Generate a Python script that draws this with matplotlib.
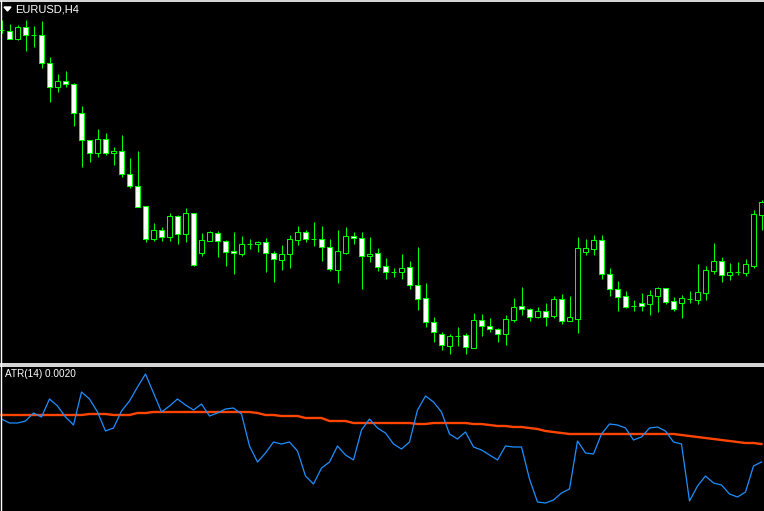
import numpy as np
import matplotlib
matplotlib.use("Agg")
from matplotlib import pyplot as plt
from matplotlib.lines import Line2D
from matplotlib.patches import Polygon

# EURUSD H4 candles (oldest -> newest)
opens = [1.1370, 1.1369, 1.1361, 1.1373, 1.1365, 1.1365, 1.1337, 1.1313, 1.1319, 1.1316,
         1.1287, 1.1260, 1.1247, 1.1261, 1.1247, 1.1249, 1.1226, 1.1214, 1.1194, 1.1161,
         1.1170, 1.1163, 1.1184, 1.1166, 1.1187, 1.1147, 1.1159, 1.1167, 1.1159, 1.1149,
         1.1146, 1.1156, 1.1156, 1.1158, 1.1147, 1.1140, 1.1146, 1.1160, 1.1168, 1.1161,
         1.1161, 1.1153, 1.1130, 1.1147, 1.1164, 1.1162, 1.1144, 1.1147, 1.1134, 1.1128,
         1.1128, 1.1133, 1.1115, 1.1102, 1.1078, 1.1066, 1.1054, 1.1064, 1.1065, 1.1052,
         1.1080, 1.1074, 1.1071, 1.1066, 1.1080, 1.1094, 1.1091, 1.1083, 1.1089, 1.1084,
         1.1101, 1.1079, 1.1081, 1.1148, 1.1151, 1.1160, 1.1126, 1.1111, 1.1104, 1.1094,
         1.1097, 1.1096, 1.1104, 1.1112, 1.1099, 1.1097, 1.1101, 1.1100, 1.1107, 1.1129,
         1.1139, 1.1125, 1.1128, 1.1127, 1.1134, 1.1185]
highs = [1.1380, 1.1376, 1.1375, 1.1380, 1.1374, 1.1379, 1.1343, 1.1326, 1.1329, 1.1317,
         1.1294, 1.1260, 1.1271, 1.1267, 1.1253, 1.1265, 1.1242, 1.1249, 1.1194, 1.1177,
         1.1173, 1.1187, 1.1185, 1.1192, 1.1187, 1.1167, 1.1169, 1.1169, 1.1160, 1.1168,
         1.1164, 1.1161, 1.1159, 1.1162, 1.1149, 1.1155, 1.1165, 1.1174, 1.1170, 1.1178,
         1.1174, 1.1161, 1.1170, 1.1173, 1.1168, 1.1168, 1.1163, 1.1152, 1.1142, 1.1132,
         1.1146, 1.1139, 1.1153, 1.1117, 1.1083, 1.1068, 1.1066, 1.1073, 1.1067, 1.1087,
         1.1086, 1.1082, 1.1072, 1.1085, 1.1102, 1.1113, 1.1092, 1.1093, 1.1097, 1.1104,
         1.1106, 1.1104, 1.1163, 1.1161, 1.1165, 1.1165, 1.1132, 1.1119, 1.1109, 1.1100,
         1.1107, 1.1110, 1.1113, 1.1112, 1.1103, 1.1105, 1.1109, 1.1136, 1.1134, 1.1157,
         1.1143, 1.1137, 1.1138, 1.1141, 1.1190, 1.1200]
lows = [1.1367, 1.1361, 1.1360, 1.1349, 1.1353, 1.1332, 1.1298, 1.1308, 1.1313, 1.1274,
        1.1233, 1.1238, 1.1243, 1.1245, 1.1235, 1.1223, 1.1212, 1.1193, 1.1158, 1.1159,
        1.1159, 1.1159, 1.1156, 1.1158, 1.1134, 1.1144, 1.1159, 1.1143, 1.1134, 1.1126,
        1.1144, 1.1151, 1.1148, 1.1128, 1.1118, 1.1130, 1.1132, 1.1155, 1.1158, 1.1154,
        1.1139, 1.1129, 1.1117, 1.1146, 1.1156, 1.1111, 1.1138, 1.1129, 1.1121, 1.1123,
        1.1121, 1.1111, 1.1090, 1.1073, 1.1058, 1.1050, 1.1046, 1.1054, 1.1046, 1.1052,
        1.1064, 1.1068, 1.1058, 1.1055, 1.1078, 1.1085, 1.1079, 1.1082, 1.1074, 1.1082,
        1.1076, 1.1079, 1.1067, 1.1145, 1.1145, 1.1121, 1.1104, 1.1089, 1.1092, 1.1089,
        1.1089, 1.1085, 1.1088, 1.1096, 1.1089, 1.1082, 1.1097, 1.1096, 1.1100, 1.1126,
        1.1118, 1.1120, 1.1125, 1.1124, 1.1132, 1.1170]
closes = [1.1370, 1.1361, 1.1373, 1.1365, 1.1365, 1.1337, 1.1313, 1.1319, 1.1316, 1.1287,
          1.1260, 1.1247, 1.1261, 1.1247, 1.1249, 1.1226, 1.1214, 1.1193, 1.1161, 1.1170,
          1.1163, 1.1184, 1.1166, 1.1187, 1.1135, 1.1160, 1.1168, 1.1159, 1.1148, 1.1147,
          1.1156, 1.1156, 1.1158, 1.1147, 1.1141, 1.1146, 1.1161, 1.1168, 1.1161, 1.1161,
          1.1153, 1.1131, 1.1149, 1.1164, 1.1162, 1.1144, 1.1146, 1.1133, 1.1128, 1.1128,
          1.1132, 1.1115, 1.1101, 1.1078, 1.1068, 1.1055, 1.1064, 1.1064, 1.1053, 1.1080,
          1.1074, 1.1071, 1.1066, 1.1081, 1.1093, 1.1091, 1.1083, 1.1089, 1.1083, 1.1101,
          1.1079, 1.1083, 1.1152, 1.1152, 1.1160, 1.1126, 1.1111, 1.1103, 1.1093, 1.1094,
          1.1094, 1.1105, 1.1112, 1.1098, 1.1091, 1.1102, 1.1101, 1.1108, 1.1130, 1.1139,
          1.1125, 1.1128, 1.1128, 1.1136, 1.1186, 1.1198]

# ATR(14) and its moving average
atr = [0.00243, 0.00239, 0.00239, 0.00241, 0.00249, 0.00245, 0.00263, 0.00256, 0.00245, 0.00237,
       0.00270, 0.00263, 0.00250, 0.00231, 0.00234, 0.00251, 0.00261, 0.00275, 0.00288, 0.00269,
       0.00250, 0.00256, 0.00263, 0.00257, 0.00252, 0.00258, 0.00246, 0.00249, 0.00253, 0.00254,
       0.00248, 0.00216, 0.00200, 0.00209, 0.00220, 0.00218, 0.00220, 0.00211, 0.00186, 0.00178,
       0.00194, 0.00200, 0.00216, 0.00207, 0.00202, 0.00232, 0.00243, 0.00234, 0.00229, 0.00218,
       0.00213, 0.00220, 0.00252, 0.00266, 0.00260, 0.00250, 0.00228, 0.00223, 0.00230, 0.00215,
       0.00212, 0.00207, 0.00202, 0.00216, 0.00215, 0.00215, 0.00183, 0.00160, 0.00159, 0.00162,
       0.00169, 0.00173, 0.00221, 0.00209, 0.00208, 0.00228, 0.00238, 0.00237, 0.00234, 0.00222,
       0.00225, 0.00234, 0.00235, 0.00231, 0.00220, 0.00218, 0.00161, 0.00176, 0.00186, 0.00179,
       0.00177, 0.00168, 0.00165, 0.00170, 0.00196, 0.00200]
atr_ma = [0.00247, 0.00247, 0.00247, 0.00247, 0.00247, 0.00247, 0.00247, 0.00247, 0.00247, 0.00247,
          0.00247, 0.00248, 0.00248, 0.00248, 0.00247, 0.00247, 0.00247, 0.00249, 0.00249, 0.00250,
          0.00250, 0.00250, 0.00250, 0.00250, 0.00250, 0.00250, 0.00250, 0.00250, 0.00250, 0.00250,
          0.00250, 0.00250, 0.00249, 0.00247, 0.00247, 0.00246, 0.00246, 0.00246, 0.00244, 0.00244,
          0.00244, 0.00241, 0.00241, 0.00241, 0.00239, 0.00239, 0.00239, 0.00239, 0.00239, 0.00239,
          0.00239, 0.00239, 0.00238, 0.00238, 0.00239, 0.00239, 0.00239, 0.00239, 0.00239, 0.00238,
          0.00238, 0.00237, 0.00236, 0.00236, 0.00235, 0.00235, 0.00234, 0.00233, 0.00231, 0.00230,
          0.00229, 0.00228, 0.00228, 0.00228, 0.00228, 0.00228, 0.00228, 0.00228, 0.00228, 0.00228,
          0.00228, 0.00228, 0.00228, 0.00228, 0.00228, 0.00227, 0.00226, 0.00225, 0.00224, 0.00223,
          0.00222, 0.00221, 0.00220, 0.00219, 0.00219, 0.00218]

symbol_label = "EURUSD,H4"
atr_label = "ATR(14) 0.0020"

W, H = 764, 511
fig = plt.figure(figsize=(W / 100, H / 100), dpi=100, facecolor="black")

def fx(px):
    return px / W

def fy(py):
    return 1 - py / H

# main price window: pixel rows 2..362, ATR window: 366..511
ax = fig.add_axes([0, fy(362), 1, (362 - 2) / H], facecolor="black")
ax2 = fig.add_axes([0, 0, 1, (H - 366) / H], facecolor="black")

x = np.arange(len(opens))
o = np.array(opens)
h = np.array(highs)
l = np.array(lows)
c = np.array(closes)
green = "#00ff00"

ax.vlines(x, l, h, color=green, linewidth=0.75, zorder=1)
bull = c > o
fills = np.where(bull, "black", "white")
body_bottom = np.minimum(o, c)
body_height = np.abs(c - o)
ax.bar(x, body_height, bottom=body_bottom, width=0.55, color=fills,
       edgecolor=green, linewidth=0.75, zorder=2)

xlim = (-1.5 / 8, (W - 1.5) / 8)
ax.set_xlim(*xlim)
ax.set_ylim(1.1400 - 362 / 10000, 1.1400 - 2 / 10000)

ax2.plot(x, atr_ma, color="#ff4500", linewidth=1.7, zorder=2)
ax2.plot(x, atr, color="#1e90ff", linewidth=0.9, zorder=3)
ax2.set_xlim(*xlim)
ax2.set_ylim((662 - 511) / 1e5, (662 - 366) / 1e5)

for a in (ax, ax2):
    a.set_xticks([])
    a.set_yticks([])
    for s in a.spines.values():
        s.set_visible(False)

# window frames
fig.add_artist(Line2D([0, 1], [fy(1.5), fy(1.5)], color="white", linewidth=1.2))
fig.add_artist(Line2D([0, 1], [fy(363.5), fy(363.5)], color="white", linewidth=1.2))
fig.add_artist(Line2D([0, 1], [fy(365.8), fy(365.8)], color="white", linewidth=1.2))
fig.add_artist(Line2D([fx(0.5), fx(0.5)], [0, fy(1.5)], color="white", linewidth=1.0))

# labels
fig.add_artist(Polygon([[fx(4), fy(7)], [fx(11), fy(7)], [fx(7.5), fy(11)]],
                       closed=True, color="white", transform=fig.transFigure))
fig.text(fx(15), fy(9), symbol_label, color="white", fontsize=8,
         family="Liberation Sans", va="center", ha="left")
fig.text(fx(5), fy(374), atr_label, color="white", fontsize=7.2,
         family="Liberation Sans", va="center", ha="left")

fig.savefig("out.png", dpi=100, facecolor="black")
